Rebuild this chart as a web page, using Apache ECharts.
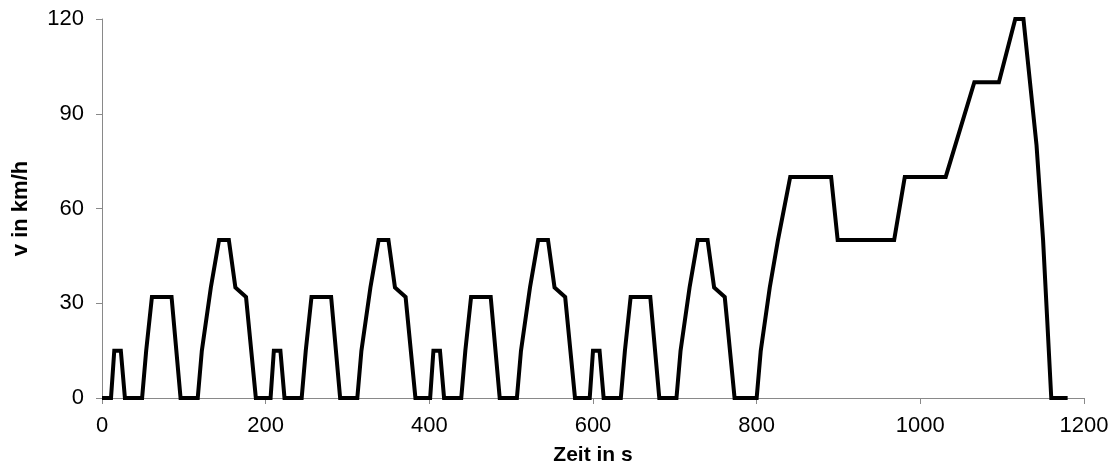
<!DOCTYPE html>
<html>
<head>
<meta charset="utf-8">
<script src="https://cdn.jsdelivr.net/npm/echarts@6/dist/echarts.min.js"></script>
<style>
  html, body { margin: 0; padding: 0; background: #fff; }
  #chart { width: 1114px; height: 471px; }
</style>
</head>
<body>
<div id="chart"></div>
<script>
  // NEDC: 4x ECE-15 + EUDC
  const timeS = [
    0, 11, 15, 23, 28, 49, 54, 56, 61, 85, 96, 117, 122, 124, 133, 135, 143, 155, 163, 176, 188,
    195, 206, 210, 218, 223, 244, 249, 251, 256, 280, 291, 312, 317, 319, 328, 330, 338, 350, 358, 371, 383,
    390, 401, 405, 413, 418, 439, 444, 446, 451, 475, 486, 507, 512, 514, 523, 525, 533, 545, 553, 566, 578,
    585, 596, 600, 608, 613, 634, 639, 641, 646, 670, 681, 702, 707, 709, 718, 720, 728, 740, 748, 761, 773,
    780, 800, 805, 807, 816, 818, 826, 828, 841, 891, 899, 968, 981, 1031, 1066, 1096, 1116, 1126, 1142, 1150, 1160, 1180
  ];
  const speedKmh = [
    0, 0, 15, 15, 0, 0, 15, 15, 32, 32, 0, 0, 15, 15, 35, 35, 50, 50, 35, 32, 0,
    0, 0, 15, 15, 0, 0, 15, 15, 32, 32, 0, 0, 15, 15, 35, 35, 50, 50, 35, 32, 0,
    0, 0, 15, 15, 0, 0, 15, 15, 32, 32, 0, 0, 15, 15, 35, 35, 50, 50, 35, 32, 0,
    0, 0, 15, 15, 0, 0, 15, 15, 32, 32, 0, 0, 15, 15, 35, 35, 50, 50, 35, 32, 0,
    0, 0, 15, 15, 35, 35, 50, 50, 70, 70, 50, 50, 70, 70, 100, 100, 120, 120, 80, 50, 0, 0
  ];
  const xTicks = { min: 0, max: 1200, interval: 200 };
  const yTicks = { min: 0, max: 120, interval: 30 };

  const chart = echarts.init(document.getElementById('chart'));
  const axisGrey = '#898989';
  const font = 'Liberation Sans, Arial, sans-serif';

  chart.setOption({
    animation: false,
    grid: { left: 102, right: 30, top: 19, bottom: 73 },
    xAxis: {
      type: 'value',
      min: xTicks.min,
      max: xTicks.max,
      interval: xTicks.interval,
      name: 'Zeit in s',
      nameLocation: 'middle',
      nameGap: 47,
      nameTextStyle: { fontFamily: font, fontWeight: 'bold', fontSize: 21, color: '#000' },
      axisLine: { lineStyle: { color: axisGrey, width: 1 } },
      axisTick: { show: true, length: 6, lineStyle: { color: axisGrey } },
      axisLabel: { margin: 17, fontFamily: font, fontSize: 22, color: '#000', formatter: v => String(v) },
      splitLine: { show: false }
    },
    yAxis: {
      type: 'value',
      min: yTicks.min,
      max: yTicks.max,
      interval: yTicks.interval,
      name: 'v in km/h',
      nameLocation: 'middle',
      nameGap: 70,
      nameTextStyle: { fontFamily: font, fontWeight: 'bold', fontSize: 22, color: '#000' },
      axisLine: { show: true, lineStyle: { color: axisGrey, width: 1 } },
      axisTick: { show: true, length: 6, lineStyle: { color: axisGrey } },
      axisLabel: { margin: 18, fontFamily: font, fontSize: 22, color: '#000', formatter: v => String(v) },
      splitLine: { show: false }
    },
    series: [{
      type: 'line',
      data: timeS.map((t, i) => [t, speedKmh[i]]),
      showSymbol: false,
      lineStyle: { color: '#000', width: 4, join: 'miter' },
      clip: true
    }]
  });
</script>
</body>
</html>
